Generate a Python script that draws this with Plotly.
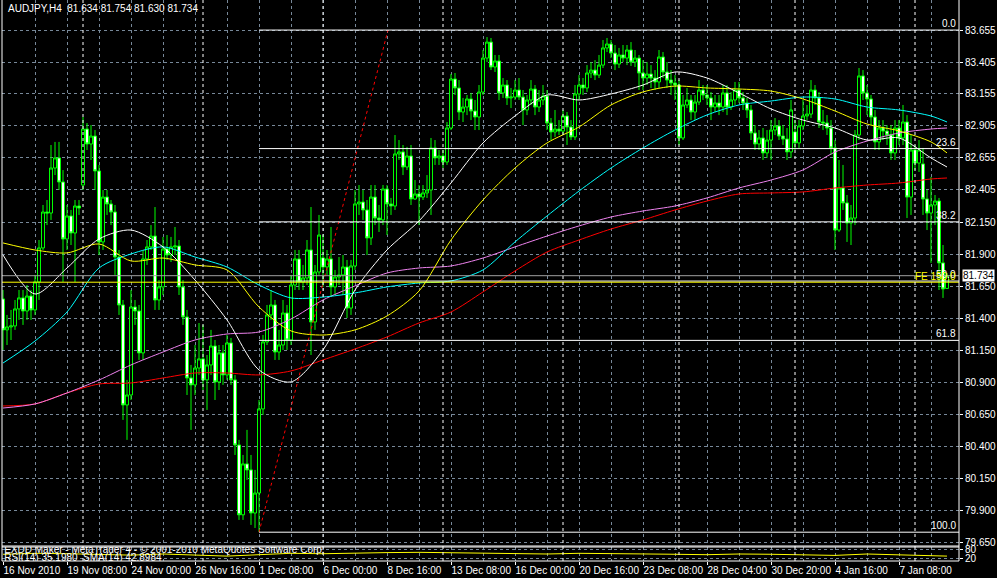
import plotly.graph_objects as go

header_text = "AUDJPY,H4  81.634 81.754 81.630 81.734"

opens = [81.552, 81.310, 81.333, 81.341, 81.474, 81.560, 81.458, 81.575, 81.466, 81.685,
         81.951, 82.232, 82.224, 82.576, 82.655, 82.467, 82.021, 82.201, 82.068, 82.279,
         82.443, 82.881, 82.764, 82.826, 82.553, 81.998, 82.349, 82.295, 82.232, 81.880,
         81.505, 80.723, 80.801, 81.489, 81.458, 81.130, 81.865, 81.959, 82.044, 81.544,
         81.646, 81.943, 81.896, 81.959, 81.966, 81.646, 81.411, 80.934, 80.880, 81.012,
         81.083, 80.919, 81.036, 81.184, 80.903, 81.130, 80.958, 81.208, 80.919, 80.410,
         79.864, 80.262, 80.215, 79.878, 80.034, 80.692, 81.216, 81.427, 81.505, 81.137,
         81.192, 81.442, 81.231, 81.661, 81.865, 81.685, 81.716, 81.935, 81.372, 81.763,
         81.873, 81.802, 81.865, 81.646, 81.724, 81.740, 81.802, 81.481, 81.810, 82.295,
         82.310, 82.248, 82.029, 82.349, 82.185, 82.170, 82.412, 82.295, 82.279, 82.686,
         82.702, 82.584, 82.670, 82.334, 82.373, 82.349, 82.381, 82.404, 82.733, 82.655,
         82.670, 82.623, 82.889, 83.272, 83.202, 83.014, 83.053, 83.116, 83.022, 82.975,
         83.170, 83.436, 83.561, 83.366, 83.413, 83.163, 83.225, 83.124, 83.131, 83.186,
         83.131, 83.030, 83.108, 83.194, 83.053, 83.108, 83.139, 82.928, 82.858, 82.881,
         82.865, 82.983, 82.897, 82.819, 83.155, 83.225, 83.202, 83.319, 83.342, 83.303,
         83.381, 83.515, 83.546, 83.475, 83.389, 83.460, 83.436, 83.499, 83.405, 83.436,
         83.319, 83.280, 83.311, 83.280, 83.249, 83.444, 83.327, 83.264, 83.241, 83.225,
         82.811, 83.069, 83.108, 83.014, 83.092, 83.186, 83.147, 83.124, 83.053, 83.085,
         83.053, 83.163, 83.053, 83.108, 83.186, 83.124, 83.085, 83.030, 82.850, 82.764,
         82.811, 82.694, 82.795, 82.873, 82.905, 82.826, 82.803, 82.702, 82.858, 82.772,
         82.905, 82.983, 82.998, 83.186, 83.124, 82.936, 82.928, 82.889, 82.733, 82.091,
         82.420, 82.303, 82.146, 82.185, 82.834, 83.296, 83.163, 83.116, 82.975, 82.780,
         82.889, 82.865, 82.834, 82.694, 82.889, 82.811, 82.936, 82.349, 82.717, 82.615,
         82.608, 82.334, 82.224, 82.287, 82.318, 81.834, 81.634]

highs = [81.622, 81.427, 81.466, 81.544, 81.622, 81.622, 81.661, 81.622, 81.740, 82.013,
         82.287, 82.326, 82.756, 82.780, 82.780, 82.560, 82.287, 82.248, 82.326, 82.326,
         82.975, 82.928, 82.912, 82.873, 82.600, 82.404, 82.404, 82.326, 82.287, 81.935,
         81.544, 80.919, 81.622, 81.544, 81.505, 81.935, 82.013, 82.130, 82.271, 81.700,
         82.037, 82.052, 82.037, 82.115, 82.013, 81.700, 81.466, 81.036, 81.192, 81.364,
         81.349, 81.114, 81.310, 81.231, 81.192, 81.192, 81.270, 81.247, 80.958, 80.450,
         80.332, 80.528, 80.332, 80.215, 80.762, 81.270, 81.505, 81.622, 81.544, 81.310,
         81.544, 81.505, 81.740, 81.935, 81.935, 81.818, 82.013, 82.271, 81.818, 82.209,
         82.052, 81.935, 82.115, 81.779, 81.880, 81.896, 81.857, 81.857, 82.404, 82.443,
         82.404, 82.326, 82.443, 82.443, 82.287, 82.443, 82.443, 82.342, 82.834, 82.795,
         82.756, 82.741, 82.756, 82.482, 82.443, 82.443, 82.521, 82.811, 82.795, 82.717,
         82.717, 82.936, 83.311, 83.319, 83.264, 83.124, 83.147, 83.163, 83.108, 83.225,
         83.499, 83.600, 83.593, 83.460, 83.460, 83.280, 83.264, 83.202, 83.264, 83.280,
         83.186, 83.147, 83.264, 83.225, 83.186, 83.225, 83.186, 82.967, 83.030, 82.951,
         83.030, 83.014, 82.951, 83.225, 83.303, 83.280, 83.381, 83.405, 83.420, 83.460,
         83.577, 83.593, 83.577, 83.538, 83.515, 83.538, 83.538, 83.561, 83.499, 83.460,
         83.420, 83.405, 83.381, 83.342, 83.499, 83.483, 83.405, 83.342, 83.303, 83.264,
         83.147, 83.202, 83.147, 83.147, 83.264, 83.225, 83.225, 83.170, 83.147, 83.147,
         83.225, 83.225, 83.170, 83.249, 83.249, 83.170, 83.124, 83.069, 82.912, 82.873,
         82.889, 82.873, 82.951, 82.967, 82.951, 82.912, 82.889, 83.108, 82.951, 82.951,
         83.108, 83.069, 83.264, 83.225, 83.170, 83.030, 82.990, 82.951, 82.795, 82.639,
         82.600, 82.365, 82.287, 82.873, 83.358, 83.342, 83.225, 83.147, 83.030, 82.951,
         82.951, 82.912, 82.912, 82.951, 82.951, 83.069, 82.990, 82.834, 82.756, 82.795,
         82.733, 82.404, 82.506, 82.365, 82.342, 81.974, 81.754]

lows = [81.153, 81.192, 81.231, 81.310, 81.388, 81.349, 81.388, 81.388, 81.427, 81.544,
        81.935, 82.130, 82.170, 82.521, 82.404, 81.685, 81.935, 81.974, 81.685, 82.209,
        82.404, 82.717, 82.639, 82.404, 81.896, 81.935, 82.209, 82.130, 81.740, 81.427,
        80.606, 80.450, 80.762, 81.349, 81.075, 81.075, 81.818, 81.935, 81.466, 81.466,
        81.583, 81.857, 81.841, 81.896, 81.583, 81.349, 80.801, 80.528, 80.801, 80.958,
        80.840, 80.684, 80.958, 80.762, 80.840, 80.880, 80.919, 80.880, 80.332, 79.824,
        79.824, 80.137, 79.785, 79.761, 79.730, 80.645, 81.192, 81.388, 81.075, 81.075,
        81.153, 81.153, 81.192, 81.622, 81.622, 81.622, 81.661, 81.114, 81.310, 81.740,
        81.646, 81.740, 81.567, 81.583, 81.661, 81.583, 81.403, 81.427, 81.779, 82.209,
        82.170, 81.896, 81.974, 82.130, 82.076, 82.130, 82.052, 82.209, 82.248, 82.639,
        82.521, 82.560, 82.287, 82.326, 82.130, 82.326, 82.342, 82.209, 82.600, 82.600,
        82.576, 82.600, 82.873, 83.147, 82.951, 82.936, 82.990, 82.951, 82.873, 82.873,
        83.147, 83.405, 83.342, 83.327, 83.108, 83.124, 83.069, 83.045, 83.108, 83.108,
        82.912, 82.990, 83.069, 82.990, 83.014, 83.069, 82.873, 82.795, 82.819, 82.834,
        82.834, 82.756, 82.795, 82.795, 83.108, 83.147, 83.170, 83.280, 83.264, 83.280,
        83.358, 83.483, 83.436, 83.342, 83.358, 83.405, 83.381, 83.374, 83.366, 83.186,
        83.186, 83.225, 83.202, 83.186, 83.202, 83.280, 83.202, 83.147, 83.108, 82.756,
        82.795, 83.045, 82.951, 82.951, 83.069, 83.108, 83.069, 82.951, 83.014, 82.990,
        83.014, 82.990, 83.030, 83.069, 83.085, 83.030, 82.967, 82.795, 82.717, 82.717,
        82.639, 82.655, 82.639, 82.834, 82.795, 82.756, 82.639, 82.655, 82.717, 82.733,
        82.873, 82.951, 82.967, 83.069, 82.889, 82.873, 82.834, 82.678, 81.935, 82.076,
        82.248, 81.998, 81.974, 82.130, 82.795, 83.108, 82.990, 82.912, 82.717, 82.717,
        82.795, 82.756, 82.639, 82.639, 82.756, 82.756, 82.185, 82.209, 82.560, 82.545,
        82.209, 82.091, 81.834, 82.130, 81.622, 81.560, 81.630]

closes = [81.310, 81.333, 81.341, 81.474, 81.560, 81.458, 81.575, 81.466, 81.685, 81.951,
          82.232, 82.224, 82.576, 82.655, 82.467, 82.021, 82.201, 82.068, 82.279, 82.263,
          82.881, 82.764, 82.826, 82.553, 81.998, 82.349, 82.295, 82.232, 81.880, 81.505,
          80.723, 80.801, 81.489, 81.458, 81.130, 81.865, 81.959, 82.044, 81.544, 81.646,
          81.943, 81.896, 81.959, 81.966, 81.646, 81.411, 80.934, 80.880, 81.012, 81.083,
          80.919, 81.036, 81.184, 80.903, 81.130, 80.958, 81.208, 80.919, 80.410, 79.864,
          80.262, 80.215, 79.878, 80.034, 80.692, 81.216, 81.427, 81.505, 81.137, 81.192,
          81.442, 81.231, 81.661, 81.865, 81.685, 81.716, 81.935, 81.372, 81.763, 82.052,
          81.802, 81.865, 81.646, 81.724, 81.740, 81.802, 81.481, 81.810, 82.295, 82.310,
          82.248, 82.029, 82.349, 82.185, 82.170, 82.412, 82.295, 82.279, 82.686, 82.702,
          82.584, 82.670, 82.334, 82.373, 82.349, 82.381, 82.404, 82.733, 82.655, 82.670,
          82.623, 82.889, 83.272, 83.202, 83.014, 83.053, 83.116, 83.022, 82.975, 83.170,
          83.436, 83.561, 83.366, 83.413, 83.163, 83.225, 83.124, 83.131, 83.186, 83.131,
          83.030, 83.108, 83.194, 83.053, 83.108, 83.139, 82.928, 82.858, 82.881, 82.865,
          82.983, 82.897, 82.819, 83.155, 83.225, 83.202, 83.319, 83.342, 83.303, 83.381,
          83.515, 83.546, 83.475, 83.389, 83.460, 83.436, 83.499, 83.405, 83.436, 83.319,
          83.280, 83.311, 83.280, 83.249, 83.444, 83.327, 83.264, 83.241, 83.225, 82.811,
          83.069, 83.108, 83.014, 83.092, 83.186, 83.147, 83.124, 83.053, 83.085, 83.053,
          83.163, 83.053, 83.108, 83.186, 83.124, 83.085, 83.030, 82.850, 82.764, 82.811,
          82.694, 82.795, 82.873, 82.905, 82.826, 82.803, 82.702, 83.030, 82.772, 82.905,
          82.983, 82.998, 83.186, 83.124, 82.936, 82.928, 82.889, 82.733, 82.091, 82.420,
          82.303, 82.146, 82.185, 82.834, 83.296, 83.163, 83.116, 82.975, 82.780, 82.889,
          82.865, 82.834, 82.694, 82.889, 82.811, 82.936, 82.349, 82.717, 82.615, 82.717,
          82.334, 82.224, 82.287, 82.318, 81.834, 81.630, 81.734]

bars = list(range(len(closes)))

# moving-average readings (bar index, price)
ma_bars = [0, 8, 16, 24, 32, 40, 48, 56, 64, 72, 80, 88, 96, 104, 112, 120, 128, 136,
           144, 152, 160, 168, 176, 184, 192, 200, 208, 216, 224, 232, 236]
ma_white = [81.896, 81.591, 81.794, 82.021, 82.091, 81.959, 81.700, 81.388, 80.997, 80.903,
            81.153, 81.622, 81.935, 82.162, 82.459, 82.772, 82.983, 83.147, 83.108, 83.155,
            83.225, 83.327, 83.280, 83.163, 83.038, 82.951, 82.889, 82.795, 82.811, 82.655, 82.584]
ma_yellow = [81.990, 81.935, 81.912, 81.982, 81.849, 81.872, 81.818, 81.779, 81.489, 81.302,
             81.270, 81.310, 81.419, 81.614, 82.013, 82.326, 82.576, 82.772, 82.897, 83.069,
             83.171, 83.217, 83.202, 83.194, 83.178, 83.116, 83.022, 82.920, 82.866, 82.780, 82.694]
ma_cyan = [81.051, 81.223, 81.450, 81.794, 81.904, 81.959, 81.880, 81.802, 81.661, 81.560,
           81.567, 81.599, 81.646, 81.677, 81.693, 81.779, 81.998, 82.201, 82.396, 82.576,
           82.733, 82.873, 82.991, 83.069, 83.100, 83.131, 83.116, 83.053, 83.030, 82.983, 82.936]
ma_violet = [80.699, 80.731, 80.817, 80.918, 81.036, 81.137, 81.231, 81.278, 81.294, 81.395,
             81.544, 81.654, 81.755, 81.794, 81.810, 81.872, 81.959, 82.044, 82.123, 82.193,
             82.240, 82.279, 82.342, 82.420, 82.482, 82.561, 82.701, 82.787, 82.850, 82.881, 82.889]
ma_red = [80.715, 80.731, 80.817, 80.887, 80.895, 80.934, 80.973, 80.973, 80.958, 80.989,
          81.075, 81.161, 81.255, 81.364, 81.450, 81.607, 81.771, 81.919, 82.013, 82.099,
          82.170, 82.248, 82.318, 82.373, 82.381, 82.389, 82.420, 82.443, 82.459, 82.490, 82.498]

rsi_values = [48, 55, 52, 45, 42, 50, 40, 35, 45, 55, 52, 58, 60, 62, 60, 58, 52, 50,
              55, 54, 50, 48, 45, 50, 48, 45, 40, 50, 45, 40, 35]

week_start_bars = [20, 50, 80, 110, 140, 169, 198, 228]

x_tick_bars = [0, 16, 32, 48, 64, 80, 96, 112, 128, 144, 160, 176, 192, 208, 224]
x_tick_text = ["16 Nov 2010", "19 Nov 08:00", "24 Nov 00:00", "26 Nov 16:00", "1 Dec 08:00",
               "6 Dec 00:00", "8 Dec 16:00", "13 Dec 08:00", "16 Dec 00:00", "20 Dec 16:00",
               "23 Dec 08:00", "28 Dec 04:00", "30 Dec 20:00", "4 Jan 16:00", "7 Jan 08:00"]

price_ticks = [83.655, 83.405, 83.155, 82.905, 82.655, 82.405, 82.150, 81.900, 81.650,
               81.400, 81.150, 80.900, 80.650, 80.400, 80.150, 79.900, 79.650]
price_tick_text = ["%.3f" % v for v in price_ticks]

fib_labels = ["0.0", "23.6", "38.2", "50.0", "61.8", "100.0"]
fib_prices = [83.655, 82.728, 82.155, 81.692, 81.228, 79.728]
fib_start_bar = 64

fe_label = "FE 150.0"
fe_price = 81.683
bid_price = 81.734
fe_trend_bars = [64, 96.25]
fe_trend_prices = [79.728, 83.655]

sub_text1 = "EXDD Maker - MetaTrader 4 - \u00a9 2001-2010 MetaQuotes Software Corp."
sub_text2 = "RSI(14) 35.1980  SMA(14) 42.8984"

# ---------------------------------------------------------------------------
FONT = "Liberation Sans, Arial, sans-serif"
GRID = "#778899"
LIME = "#00FF00"
X_MIN, X_MAX = -0.25, 239
H_PLOT = 561
MAIN_BOTTOM = (H_PLOT - 546) / H_PLOT
SUB_TOP = (H_PLOT - 547) / H_PLOT

fig = go.Figure()

fig.add_trace(go.Candlestick(
    x=bars, open=opens, high=highs, low=lows, close=closes,
    increasing=dict(line=dict(color=LIME, width=1), fillcolor="black"),
    decreasing=dict(line=dict(color=LIME, width=1), fillcolor="white"),
    whiskerwidth=0, hoverinfo="skip", xaxis="x", yaxis="y", showlegend=False))

for vals, col in [(ma_red, "#FF0000"), (ma_violet, "#EE82EE"), (ma_cyan, "#00FFFF"),
                  (ma_yellow, "#FFFF00"), (ma_white, "#FFFFFF")]:
    fig.add_trace(go.Scatter(x=ma_bars, y=vals, mode="lines",
                             line=dict(color=col, width=1, shape="spline", smoothing=0.8),
                             hoverinfo="skip", showlegend=False, xaxis="x", yaxis="y"))

fig.add_trace(go.Scatter(x=fe_trend_bars, y=fe_trend_prices, mode="lines",
                         line=dict(color="#FF0000", width=1, dash="dot"),
                         hoverinfo="skip", showlegend=False, xaxis="x", yaxis="y"))

# RSI subwindow
fig.add_trace(go.Scatter(x=ma_bars, y=rsi_values, mode="lines",
                         line=dict(color="#FFFF00", width=1),
                         hoverinfo="skip", showlegend=False, xaxis="x", yaxis="y2"))
fig.add_trace(go.Scatter(x=[0.3, 0.3], y=[72, 20], mode="text",
                         text=[sub_text1, sub_text2], textposition="middle right",
                         textfont=dict(color="white", size=10, family=FONT),
                         cliponaxis=True, hoverinfo="skip", showlegend=False,
                         xaxis="x", yaxis="y2"))

shapes = []
shapes.append(dict(type="line", xref="x", yref="y", x0=X_MIN, x1=X_MAX, y0=bid_price, y1=bid_price,
                   line=dict(color="#A0A0A0", width=1)))
for p in fib_prices:
    shapes.append(dict(type="line", xref="x", yref="y", x0=fib_start_bar, x1=X_MAX, y0=p, y1=p,
                       line=dict(color="white", width=1)))
shapes.append(dict(type="line", xref="x", yref="y", x0=X_MIN, x1=X_MAX, y0=fe_price, y1=fe_price,
                   line=dict(color="#FFFF00", width=1)))
for b in week_start_bars:
    shapes.append(dict(type="line", xref="x", yref="paper", x0=b, x1=b, y0=0, y1=1,
                       line=dict(color="white", width=1, dash="3px,3px")))
for (x0, x1, y0, y1) in [(0, 0, 0, 1), (1, 1, 0, 1), (0, 1, MAIN_BOTTOM, MAIN_BOTTOM),
                         (0, 1, SUB_TOP, SUB_TOP), (0, 1, 0, 0)]:
    shapes.append(dict(type="line", xref="paper", yref="paper", x0=x0, x1=x1, y0=y0, y1=y1,
                       line=dict(color="white", width=1)))

annotations = [dict(text=header_text, xref="paper", yref="paper", x=0, y=1, xanchor="left",
                    yanchor="top", xshift=4, yshift=-1, showarrow=False,
                    font=dict(color="white", size=10, family=FONT))]
for lab, p in zip(fib_labels, fib_prices):
    annotations.append(dict(text=lab, xref="paper", yref="y", x=1, y=p, xanchor="right",
                            yanchor="bottom", xshift=-1, yshift=-1, showarrow=False,
                            font=dict(color="white", size=10, family=FONT)))
annotations.append(dict(text=fe_label, xref="paper", yref="y", x=1, y=fe_price, xanchor="right",
                        yanchor="bottom", xshift=-1, yshift=-2, showarrow=False,
                        font=dict(color="#FFFF00", size=10, family=FONT)))
annotations.append(dict(text="%.3f" % bid_price, xref="paper", yref="y", x=1, y=bid_price,
                        xanchor="left", yanchor="middle", xshift=3, showarrow=False,
                        bgcolor="white", borderpad=0,
                        font=dict(color="black", size=10, family=FONT)))

fig.update_layout(
    width=997, height=578, autosize=False,
    margin=dict(l=2, r=38, t=0, b=17, pad=0),
    paper_bgcolor="black", plot_bgcolor="black",
    boxgap=0.25, boxgroupgap=0,
    showlegend=False,
    shapes=shapes, annotations=annotations,
    xaxis=dict(range=[X_MIN, X_MAX], anchor="y2", tickmode="array", tickvals=x_tick_bars,
               ticktext=x_tick_text, ticks="outside", ticklen=3, tickcolor="white",
               ticklabelposition="outside right", tickangle=0, automargin=False,
               tickfont=dict(color="white", size=10, family=FONT),
               showgrid=True, gridcolor=GRID, griddash="3px,3px", gridwidth=1,
               minor=dict(tickmode="linear", tick0=8, dtick=16, showgrid=True,
                          gridcolor=GRID, griddash="3px,3px", ticks=""),
               zeroline=False, showline=False, rangeslider=dict(visible=False),
               fixedrange=True),
    yaxis=dict(domain=[MAIN_BOTTOM, 1], range=[79.620, 83.890], anchor="x", side="right",
               tickmode="array", tickvals=price_ticks, ticktext=price_tick_text,
               ticks="outside", ticklen=3, tickcolor="white", automargin=False,
               tickfont=dict(color="white", size=10, family=FONT),
               showgrid=True, gridcolor=GRID, griddash="3px,3px", zeroline=False,
               showline=False, fixedrange=True),
    yaxis2=dict(domain=[0, SUB_TOP], range=[0, 100], anchor="x", side="right",
                tickmode="array", tickvals=[20, 80], ticktext=["20", "80"],
                ticks="outside", ticklen=3, tickcolor="white", automargin=False,
                tickfont=dict(color="white", size=10, family=FONT),
                showgrid=True, gridcolor=GRID, griddash="3px,3px", zeroline=False,
                showline=False, fixedrange=True),
)

fig.write_html("out.html", config={"displayModeBar": False},
               post_script="document.body.style.margin='0px';document.body.style.background='black';")
